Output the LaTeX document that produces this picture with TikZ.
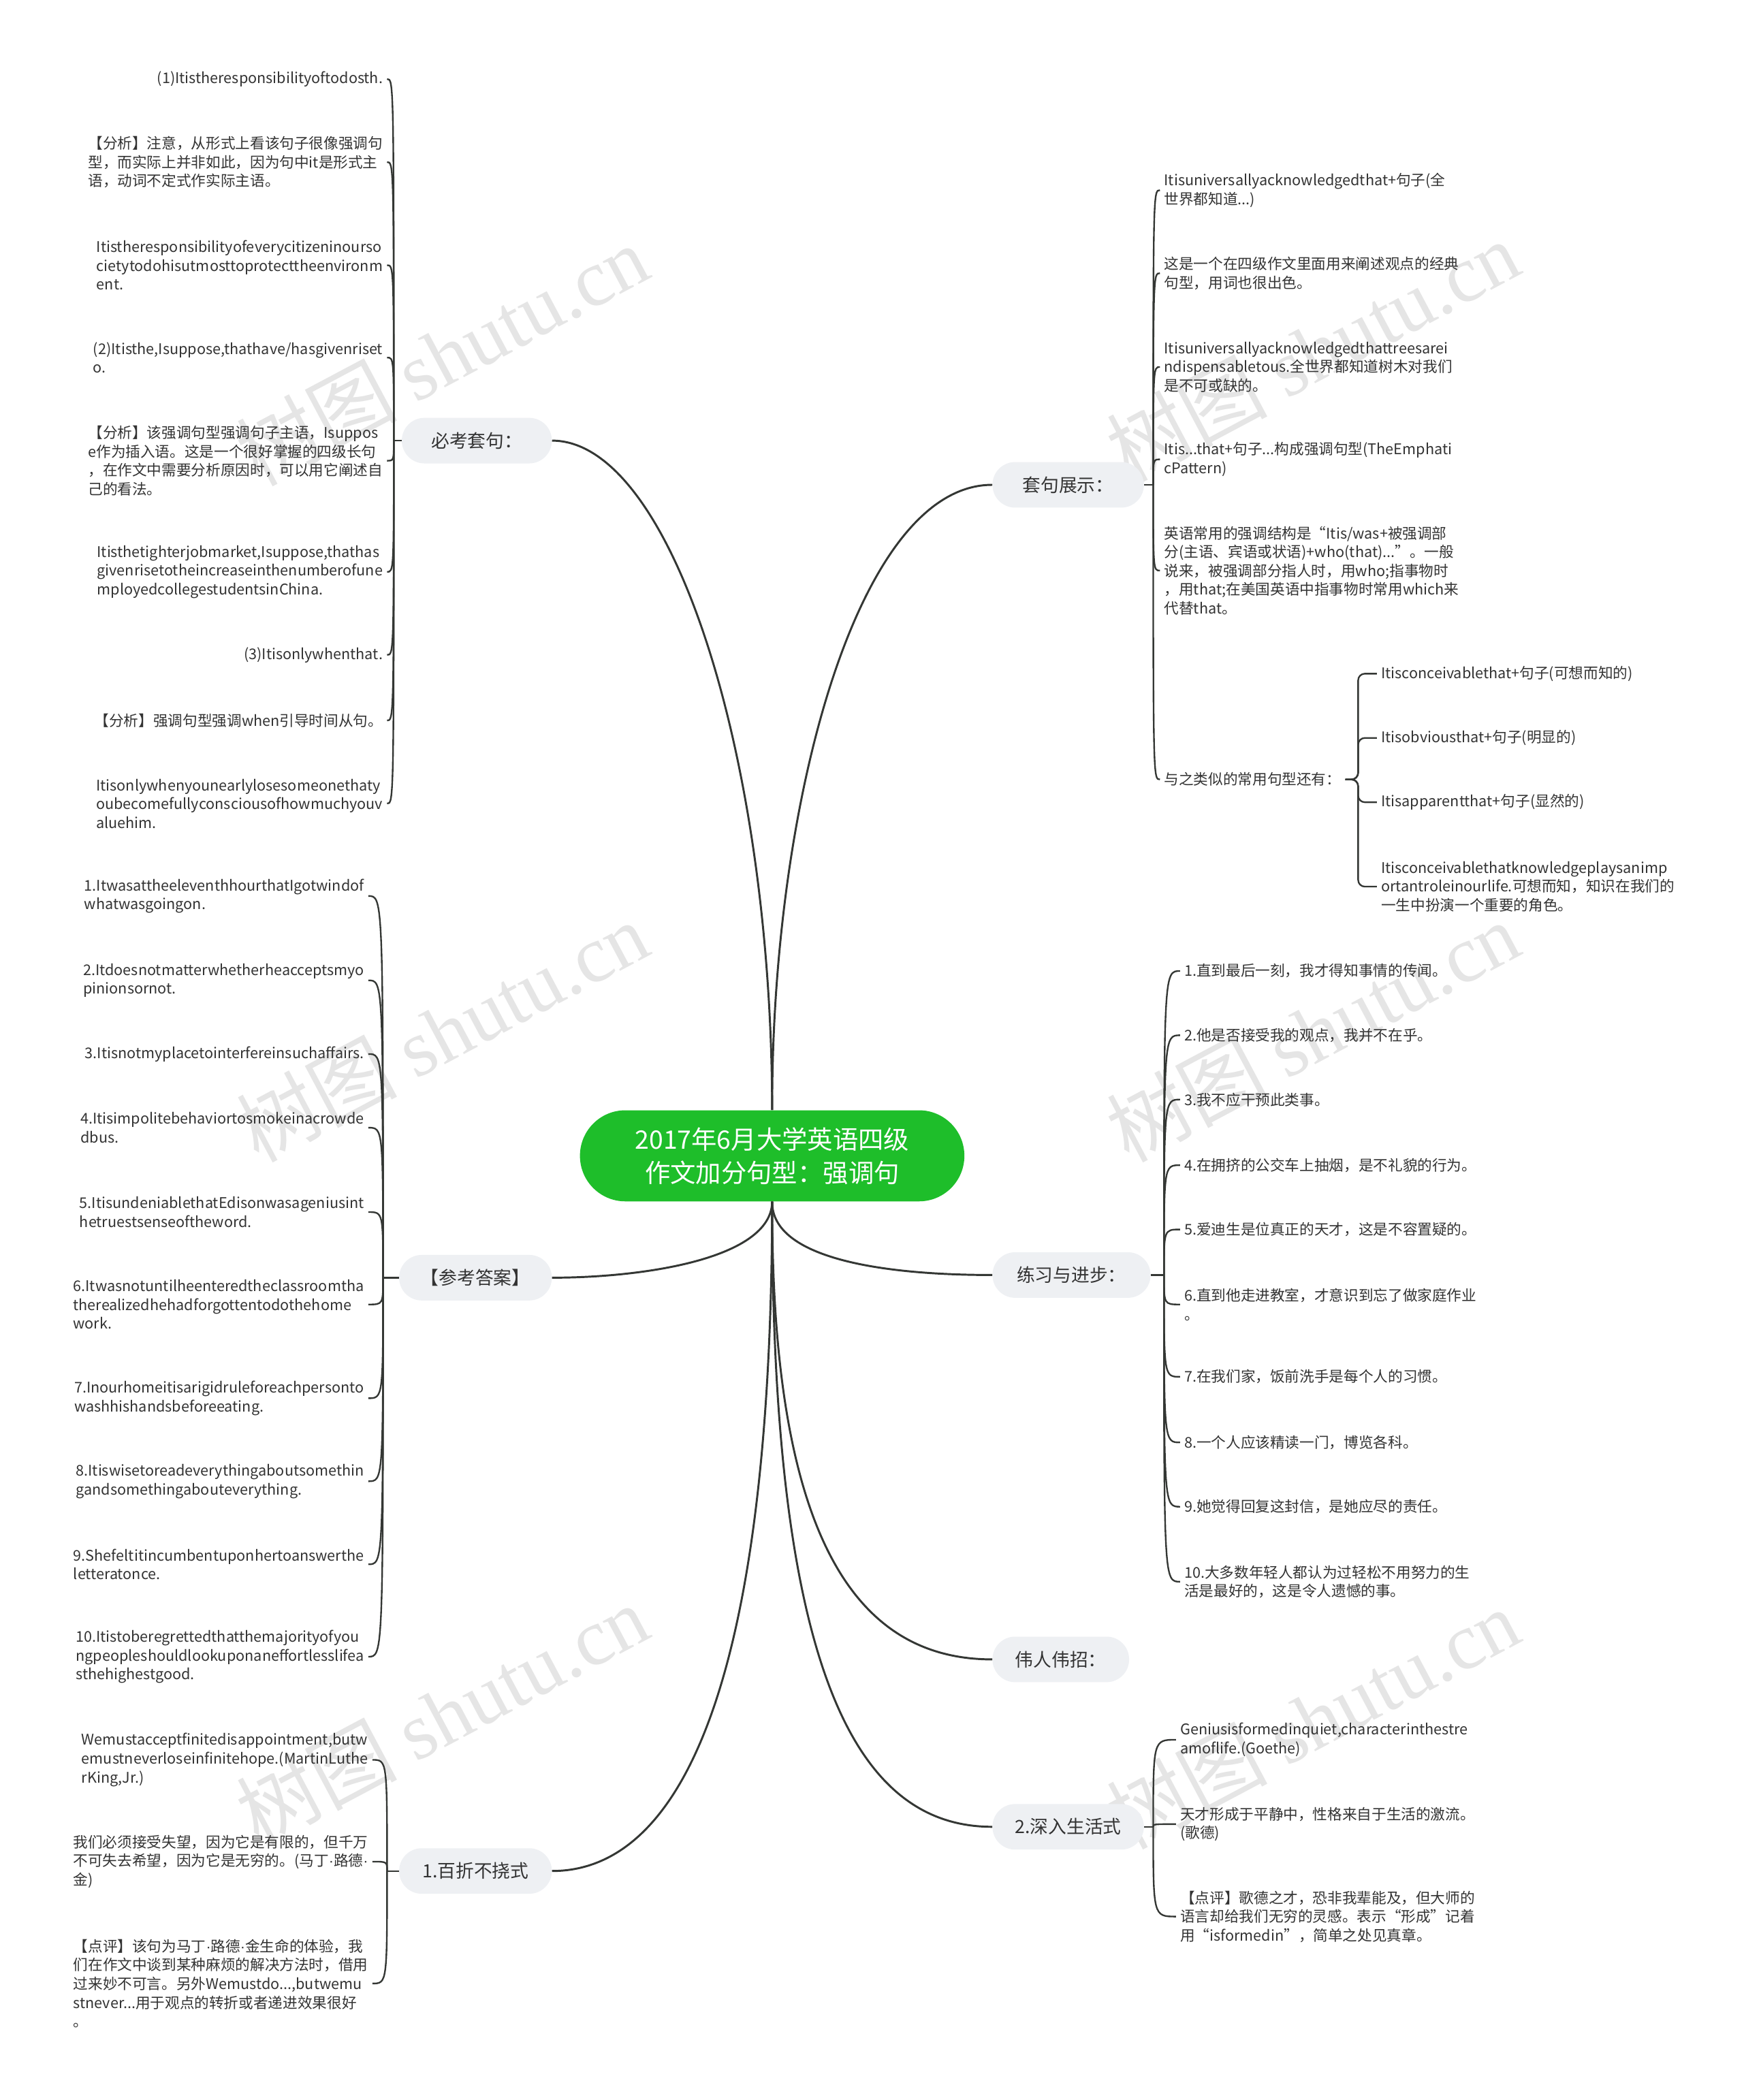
\documentclass[tikz,border=0pt]{standalone}
\usepackage{fontspec}
\setmainfont{Noto Sans CJK SC}
\newfontfamily\wmserif{Liberation Serif}
\newfontfamily\dotfont{Liberation Sans}
\newcommand{\mdot}{{\dotfont ·}}
\usepackage{tikz}
\definecolor{rootgreen}{RGB}{30,190,42}
\definecolor{pillgray}{RGB}{238,240,243}
\definecolor{inkgray}{RGB}{51,51,51}
\definecolor{wiregray}{RGB}{52,55,52}

\begin{document}
\begin{tikzpicture}[
  x=1pt,y=-1pt,
  rootnode/.style={rounded corners=33.9pt,fill=rootgreen,text=white,minimum width=287pt,minimum height=68pt,align=center,font=\fontsize{19pt}{25pt}\selectfont},
  topic/.style={rounded corners=16.9pt,fill=pillgray,text=inkgray,minimum height=34pt,minimum width=#1,font=\fontsize{13.6pt}{16pt}\selectfont},
  leaf/.style={align=left,text=inkgray,inner xsep=3pt,inner ysep=1pt,font=\fontsize{11pt}{14pt}\selectfont},
  leafL/.style={leaf,anchor=east},
  leafR/.style={leaf,anchor=west},
  trunk/.style={draw=wiregray,line width=1.5pt},
  wire/.style={draw=wiregray,line width=1.2pt},
  stamp/.style={text=gray!20,rotate=28,font=\fontsize{60pt}{60pt}\selectfont}
]
\fill[white] (0,0) rectangle (1302,1568);
\useasboundingbox (0,0) rectangle (1302,1568);

% watermarks
\node[stamp] (wm1) at (330,265) {树图 {\wmserif shutu.cn}};
\node[stamp] (wm2) at (980,262) {树图 {\wmserif shutu.cn}};
\node[stamp] (wm3) at (330,770) {树图 {\wmserif shutu.cn}};
\node[stamp] (wm4) at (980,770) {树图 {\wmserif shutu.cn}};
\node[stamp] (wm5) at (330,1280) {树图 {\wmserif shutu.cn}};
\node[stamp] (wm6) at (980,1283) {树图 {\wmserif shutu.cn}};

% root and main topics
\node[rootnode] (root) at (576.5,863) {2017年6月大学英语四级\\作文加分句型：强调句};

\node[topic=112pt] (bk) at (356,329) {必考套句：};
\node[topic=114pt] (ck) at (355,954) {【参考答案】};
\node[topic=114pt] (bz) at (355,1397) {1.百折不挠式};
\node[topic=113pt] (tz) at (797.5,362) {套句展示：};
\node[topic=118pt] (lx) at (800,952) {练习与进步：};
\node[topic=102pt] (wr) at (792,1239) {伟人伟招：};
\node[topic=113pt] (sr) at (797.5,1364) {2.深入生活式};

\draw[trunk] (root.north) .. controls (576,560) and (500,329) .. (bk.east);
\draw[trunk] (root.north) .. controls (576,600) and (640,362) .. (tz.west);
\draw[trunk] (root.south) .. controls (576,940) and (480,954) .. (ck.east);
\draw[trunk] (root.south) .. controls (576,940) and (660,952) .. (lx.west);
\draw[trunk] (root.south) .. controls (576,1150) and (640,1239) .. (wr.west);
\draw[trunk] (root.south) .. controls (576,1250) and (640,1364) .. (sr.west);
\draw[trunk] (root.south) .. controls (576,1280) and (500,1397) .. (bz.east);

% 必考套句
\node[leafL] (bk1) at (289,59) {(1)Itistheresponsibilityoftodosth.};
\node[leafL] (bk2) at (289,121) {【分析】注意，从形式上看该句子很像强调句\\型，而实际上并非如此，因为句中it是形式主\\语，动词不定式作实际主语。};
\node[leafL] (bk3) at (289,198) {Itistheresponsibilityofeverycitizeninourso\\cietytodohisutmosttoprotecttheenvironm\\ent.};
\node[leafL] (bk4) at (289,267) {(2)Itisthe,Isuppose,thathave/hasgivenriset\\o.};
\node[leafL] (bk5) at (289,344) {【分析】该强调句型强调句子主语，Isuppos\\e作为插入语。这是一个很好掌握的四级长句\\，在作文中需要分析原因时，可以用它阐述自\\己的看法。};
\node[leafL] (bk6) at (289,427) {Itisthetighterjobmarket,Isuppose,thathas\\givenrisetotheincreaseinthenumberofune\\mployedcollegestudentsinChina.};
\node[leafL] (bk7) at (289,489) {(3)Itisonlywhenthat.};
\node[leafL] (bk8) at (289,538) {【分析】强调句型强调when引导时间从句。};
\node[leafL] (bk9) at (289,600) {Itisonlywhenyounearlylosesomeonethaty\\oubecomefullyconsciousofhowmuchyouv\\aluehim.};
\coordinate (bkf) at (294,329);
\draw[wire] (bk.west) -- (bkf);
\foreach \i in {1,...,9}
  \draw[wire] (bkf) .. controls (bkf |- bk\i.east) .. (bk\i.east);

% 参考答案
\node[leafL] (ck1) at (275,669) {1.ItwasattheeleventhhourthatIgotwindof\\whatwasgoingon.};
\node[leafL] (ck2) at (275,732) {2.Itdoesnotmatterwhetherheacceptsmyo\\pinionsornot.};
\node[leafL] (ck3) at (275,787) {3.Itisnotmyplacetointerfereinsuchaffairs.};
\node[leafL] (ck4) at (275,842) {4.Itisimpolitebehaviortosmokeinacrowde\\dbus.};
\node[leafL] (ck5) at (275,905) {5.ItisundeniablethatEdisonwasageniusint\\hetruestsenseoftheword.};
\node[leafL] (ck6) at (275,974) {6.Itwasnotuntilheenteredtheclassroomtha\\therealizedhehadforgottentodothehome\\work.};
\node[leafL] (ck7) at (275,1044) {7.Inourhomeitisarigidruleforeachpersonto\\washhishandsbeforeeating.};
\node[leafL] (ck8) at (275,1106) {8.Itiswisetoreadeverythingaboutsomethin\\gandsomethingabouteverything.};
\node[leafL] (ck9) at (275,1168) {9.Shefeltitincumbentuponhertoanswerthe\\letteratonce.};
\node[leafL] (ck10) at (275,1237) {10.Itistoberegrettedthatthemajorityofyou\\ngpeopleshouldlookuponaneffortlesslifea\\sthehighestgood.};
\coordinate (ckf) at (286,954);
\draw[wire] (ck.west) -- (ckf);
\foreach \i in {1,...,10}
  \draw[wire] (ckf) .. controls (ckf |- ck\i.east) .. (ck\i.east);

% 百折不挠式
\node[leafL] (bz1) at (278,1314) {Wemustacceptfinitedisappointment,butw\\emustneverloseinfinitehope.(MartinLuthe\\rKing,Jr.)};
\node[leafL] (bz2) at (278,1390) {我们必须接受失望，因为它是有限的，但千万\\不可失去希望，因为它是无穷的。(马丁\mdot 路德\mdot\\金)};
\node[leafL] (bz3) at (278,1481) {【点评】该句为马丁\mdot 路德\mdot 金生命的体验，我\\们在作文中谈到某种麻烦的解决方法时，借用\\过来妙不可言。另外Wemustdo...,butwemu\\stnever...用于观点的转折或者递进效果很好\\。};
\coordinate (bzf) at (289,1397);
\draw[wire] (bz.west) -- (bzf);
\foreach \i in {1,...,3}
  \draw[wire] (bzf) .. controls (bzf |- bz\i.east) .. (bz\i.east);

% 套句展示
\node[leafR] (tz1) at (866,142) {Itisuniversallyacknowledgedthat+句子(全\\世界都知道...)};
\node[leafR] (tz2) at (866,204) {这是一个在四级作文里面用来阐述观点的经典\\句型，用词也很出色。};
\node[leafR] (tz3) at (866,274) {Itisuniversallyacknowledgedthattreesarei\\ndispensabletous.全世界都知道树木对我们\\是不可或缺的。};
\node[leafR] (tz4) at (866,343) {Itis...that+句子...构成强调句型(TheEmphati\\cPattern)};
\node[leafR] (tz5) at (866,426) {英语常用的强调结构是“Itis/was+被强调部\\分(主语、宾语或状语)+who(that)...”。一般\\说来，被强调部分指人时，用who;指事物时\\，用that;在美国英语中指事物时常用which来\\代替that。};
\node[leafR] (tz6) at (866,582) {与之类似的常用句型还有：};
\coordinate (tzf) at (861,362);
\draw[wire] (tz.east) -- (tzf);
\foreach \i in {1,...,6}
  \draw[wire] (tzf) .. controls (tzf |- tz\i.west) .. (tz\i.west);

% 类似句型
\node[leafR] (lk1) at (1028,503) {Itisconceivablethat+句子(可想而知的)};
\node[leafR] (lk2) at (1028,551) {Itisobviousthat+句子(明显的)};
\node[leafR] (lk3) at (1028,599) {Itisapparentthat+句子(显然的)};
\node[leafR] (lk4) at (1028,662) {Itisconceivablethatknowledgeplaysanimp\\ortantroleinourlife.可想而知，知识在我们的\\一生中扮演一个重要的角色。};
\coordinate (lkf) at (1014,582);
\foreach \i in {1,...,4}
  \draw[wire,rounded corners=5pt] (tz6.east) -- (lkf) |- (lk\i.west);

% 练习与进步
\node[leafR] (lx1) at (881,725) {1.直到最后一刻，我才得知事情的传闻。};
\node[leafR] (lx2) at (881,773) {2.他是否接受我的观点，我并不在乎。};
\node[leafR] (lx3) at (881,821) {3.我不应干预此类事。};
\node[leafR] (lx4) at (881,870) {4.在拥挤的公交车上抽烟，是不礼貌的行为。};
\node[leafR] (lx5) at (881,918) {5.爱迪生是位真正的天才，这是不容置疑的。};
\node[leafR] (lx6) at (881,974) {6.直到他走进教室，才意识到忘了做家庭作业\\。};
\node[leafR] (lx7) at (881,1028) {7.在我们家，饭前洗手是每个人的习惯。};
\node[leafR] (lx8) at (881,1077) {8.一个人应该精读一门，博览各科。};
\node[leafR] (lx9) at (881,1125) {9.她觉得回复这封信，是她应尽的责任。};
\node[leafR] (lx10) at (881,1181) {10.大多数年轻人都认为过轻松不用努力的生\\活是最好的，这是令人遗憾的事。};
\coordinate (lxf) at (869,952);
\draw[wire] (lx.east) -- (lxf);
\foreach \i in {1,...,10}
  \draw[wire] (lxf) .. controls (lxf |- lx\i.west) .. (lx\i.west);

% 深入生活式
\node[leafR] (sr1) at (878,1299) {Geniusisformedinquiet,characterinthestre\\amoflife.(Goethe)};
\node[leafR] (sr2) at (878,1362) {天才形成于平静中，性格来自于生活的激流。\\(歌德)};
\node[leafR] (sr3) at (878,1431) {【点评】歌德之才，恐非我辈能及，但大师的\\语言却给我们无穷的灵感。表示“形成”记着\\用“isformedin”，简单之处见真章。};
\coordinate (srf) at (861,1364);
\draw[wire] (sr.east) -- (srf);
\foreach \i in {1,...,3}
  \draw[wire] (srf) .. controls (srf |- sr\i.west) .. (sr\i.west);
\end{tikzpicture}
\end{document}
